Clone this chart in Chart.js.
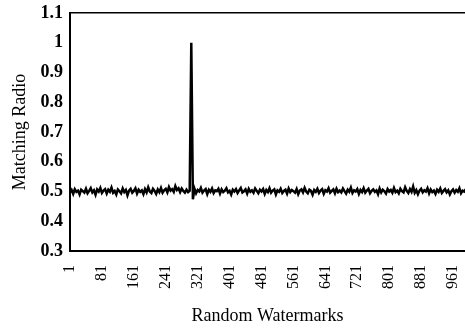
<!DOCTYPE html>
<html lang="en">
<head>
    <meta charset="UTF-8">
    <title>Matching Radio of Random Watermarks</title>
    <script src="https://cdn.jsdelivr.net/npm/chart.js"></script>
    <style>
        body { margin: 0; padding: 0; background-color: #fff; }
        #chartContainer { width: 465px; height: 329px; position: relative; }
    </style>
</head>
<body>
    <div id="chartContainer">
        <canvas id="ratioChart"></canvas>
    </div>

    <script>
        // watermark index (every 4th of the tested watermarks)
        const watermarkIds = [];
        for (let i = 0; i < 250; i++) watermarkIds.push(1 + 4 * i);

        // matching ratio; the embedded watermark sits at ~305
        const ratios = [
            0.497,0.505,0.492,0.508,0.499,0.503,0.490,0.506,0.501,0.496,
            0.509,0.494,0.502,0.511,0.497,0.504,0.489,0.507,0.500,0.512,
            0.495,0.503,0.508,0.493,0.506,0.499,0.513,0.496,0.502,0.490,
            0.507,0.501,0.494,0.510,0.498,0.505,0.487,0.503,0.509,0.496,
            0.502,0.511,0.493,0.506,0.499,0.504,0.491,0.508,0.497,0.514,
            0.500,0.495,0.509,0.502,0.492,0.507,0.498,0.512,0.496,0.504,
            0.509,0.497,0.515,0.503,0.508,0.499,0.518,0.505,0.511,0.498,
            0.510,0.502,0.496,0.506,0.498,0.503,1.000,0.474,0.509,0.494,
            0.505,0.500,0.512,0.496,0.503,0.508,0.491,0.506,0.499,0.510,
            0.495,0.504,0.501,0.509,0.493,0.507,0.498,0.503,0.511,0.497,
            0.502,0.490,0.506,0.500,0.508,0.495,0.504,0.512,0.497,0.501,
            0.507,0.493,0.509,0.499,0.504,0.496,0.510,0.502,0.494,0.506,
            0.500,0.508,0.492,0.505,0.498,0.511,0.496,0.503,0.507,0.490,
            0.504,0.499,0.509,0.495,0.502,0.506,0.493,0.510,0.498,0.505,
            0.501,0.496,0.508,0.491,0.503,0.507,0.497,0.512,0.500,0.494,
            0.506,0.502,0.489,0.505,0.499,0.509,0.495,0.503,0.508,0.492,
            0.504,0.500,0.511,0.496,0.502,0.507,0.494,0.509,0.498,0.503,
            0.497,0.510,0.501,0.493,0.506,0.499,0.513,0.495,0.504,0.500,
            0.508,0.492,0.505,0.498,0.511,0.496,0.503,0.509,0.494,0.502,
            0.507,0.499,0.504,0.491,0.510,0.497,0.506,0.501,0.493,0.508,
            0.500,0.505,0.496,0.512,0.498,0.503,0.494,0.509,0.501,0.497,
            0.514,0.502,0.495,0.508,0.499,0.517,0.496,0.505,0.491,0.503,
            0.509,0.497,0.504,0.500,0.511,0.494,0.507,0.498,0.503,0.492,
            0.506,0.499,0.510,0.495,0.502,0.508,0.497,0.504,0.490,0.501,
            0.507,0.496,0.505,0.499,0.511,0.494,0.503,0.500,0.508,0.497
        ];

        const xTickValues = [1, 81, 161, 241, 321, 401, 481, 561, 641, 721, 801, 881, 961];
        const yTickValues = [0.3, 0.4, 0.5, 0.6, 0.7, 0.8, 0.9, 1.0, 1.1];

        const serif = 'Liberation Serif';
        const ctx = document.getElementById('ratioChart').getContext('2d');

        // keep the plot edges fixed instead of letting label overhang move them
        function noOverhang(axis) {
            axis.paddingLeft = 0;
            axis.paddingRight = 0;
            axis.paddingTop = 0;
            axis.paddingBottom = 0;
        }

        new Chart(ctx, {
            type: 'line',
            data: {
                datasets: [{
                    label: 'Matching Radio',
                    data: watermarkIds.map((id, i) => ({ x: id, y: ratios[i] })),
                    borderColor: '#000',
                    borderWidth: 2.5,
                    pointRadius: 0,
                    tension: 0,
                    fill: false
                }]
            },
            options: {
                responsive: true,
                maintainAspectRatio: false,
                animation: false,
                layout: { padding: { top: 13, left: 0, right: 0, bottom: 0 } },
                plugins: {
                    legend: { display: false },
                    tooltip: { enabled: false }
                },
                scales: {
                    x: {
                        type: 'linear',
                        min: 1,
                        max: 991,
                        afterBuildTicks: axis => { axis.ticks = xTickValues.map(v => ({ value: v })); },
                        afterFit: axis => { axis.height = 78; noOverhang(axis); },
                        ticks: {
                            autoSkip: false,
                            minRotation: 90,
                            maxRotation: 90,
                            color: '#000',
                            font: { family: serif, size: 16 },
                            padding: 14,
                            callback: v => String(v)
                        },
                        grid: { display: false, drawTicks: false },
                        border: { color: '#000', width: 2 },
                        title: {
                            display: true,
                            text: 'Random Watermarks',
                            color: '#000',
                            font: { family: serif, size: 18 },
                            padding: { top: 0, bottom: 2 }
                        }
                    },
                    xTop: {
                        type: 'linear',
                        position: 'top',
                        min: 1,
                        max: 991,
                        afterFit: axis => { axis.height = 0; noOverhang(axis); },
                        ticks: { display: false },
                        grid: { display: false, drawTicks: false },
                        border: { color: '#000', width: 1.5 }
                    },
                    y: {
                        min: 0.3,
                        max: 1.1,
                        afterBuildTicks: axis => { axis.ticks = yTickValues.map(v => ({ value: v })); },
                        afterFit: axis => { axis.width = 70; noOverhang(axis); },
                        ticks: {
                            color: '#000',
                            font: { family: serif, size: 18, weight: 'bold' },
                            padding: 7,
                            callback: v => String(Number(v.toFixed(1)))
                        },
                        grid: { display: false, drawTicks: false },
                        border: { color: '#000', width: 2 },
                        title: {
                            display: true,
                            text: 'Matching Radio',
                            color: '#000',
                            font: { family: serif, size: 18 },
                            padding: { top: 9, bottom: 0 }
                        }
                    }
                }
            }
        });
    </script>
</body>
</html>
